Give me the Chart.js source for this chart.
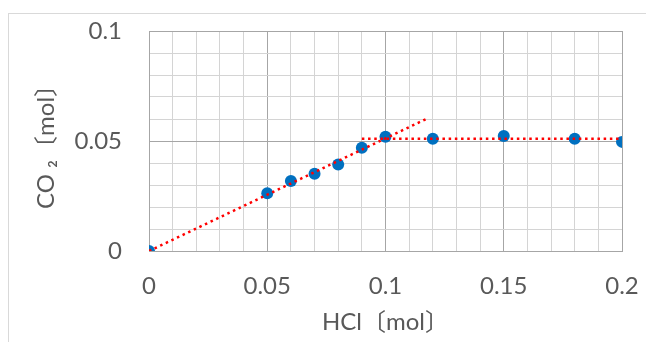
<!DOCTYPE html>
<html>
<head>
<meta charset="utf-8">
<script src="https://cdn.jsdelivr.net/npm/chart.js@4/dist/chart.umd.min.js"></script>
<style>
  html, body { margin: 0; padding: 0; background: #ffffff; }
  #wrap { position: relative; width: 646px; height: 342px; overflow: hidden; background: #ffffff; }
  #frame { position: absolute; left: 8px; top: 13px; right: -2px; bottom: -2px;
           border-left: 1px solid #d9d9d9; border-top: 1px solid #d9d9d9; pointer-events: none; }
  canvas { position: absolute; left: 0; top: 0; }
</style>
</head>
<body>
<div id="wrap">
  <canvas id="c" width="646" height="342"></canvas>
  <div id="frame"></div>
</div>
<script>
// Measured data (HCl [mol] vs CO2 [mol])
const hclValues = [0, 0.05, 0.06, 0.07, 0.08, 0.09, 0.10, 0.12, 0.15, 0.18, 0.20];
const co2Values = [0, 0.0263, 0.0318, 0.0351, 0.0393, 0.0469, 0.0519, 0.0510, 0.0523, 0.0510, 0.0496];

// Hand-drawn trend lines
const rising_x = [0, 0.118];
const rising_y = [0, 0.0604];
const plateau_x = [0.09, 0.20];
const plateau_y = [0.051, 0.051];

// Axis ticks
const xTickLabels = ['0', '0.05', '0.1', '0.15', '0.2'];
const yTickLabels = ['0', '0.05', '0.1'];
const xTitle = 'HCl〔mol〕';
const yTitle = 'CO ₂〔mol〕';

const toPts = (xs, ys) => xs.map((x, i) => ({ x: x, y: ys[i] }));
const isMajor = v => Math.abs(v / 0.05 - Math.round(v / 0.05)) < 1e-6;
const labelFor = (v, labels) => {
  if (!isMajor(v)) return '';
  const s = String(parseFloat(v.toFixed(2)));
  return labels.includes(s) ? s : '';
};

const FONT = "Lato, 'Noto Sans CJK JP', sans-serif";
const TXT = '#595959';
const MAJOR = '#a6a6a6';
const MINOR = '#d4d4d4';

new Chart(document.getElementById('c'), {
  type: 'scatter',
  data: {
    datasets: [
      {
        label: 'trend1',
        type: 'line',
        data: toPts(rising_x, rising_y),
        borderColor: '#ff0000',
        borderWidth: 2.5,
        borderDash: [2.5, 3.7],
        pointRadius: 0,
        fill: false,
        order: 1
      },
      {
        label: 'trend2',
        type: 'line',
        data: toPts(plateau_x, plateau_y),
        borderColor: '#ff0000',
        borderWidth: 2.5,
        borderDash: [2.5, 3.7],
        pointRadius: 0,
        fill: false,
        order: 1
      },
      {
        label: 'CO2',
        data: toPts(hclValues, co2Values),
        backgroundColor: '#0070c0',
        borderColor: '#0070c0',
        borderWidth: 0,
        pointRadius: 6,
        pointHoverRadius: 6,
        order: 2
      }
    ]
  },
  options: {
    responsive: false,
    animation: false,
    events: [],
    layout: { padding: { top: 31, right: 24, left: 0, bottom: 0 } },
    plugins: { legend: { display: false }, tooltip: { enabled: false } },
    scales: {
      x: {
        type: 'linear',
        min: 0, max: 0.2,
        afterFit: s => { s.height = 91; s.paddingLeft = 0; s.paddingRight = 0; },
        ticks: {
          stepSize: 0.01,
          autoSkip: false,
          maxRotation: 0,
          padding: 21,
          color: TXT,
          font: { family: FONT, size: 24 },
          callback: v => labelFor(v, xTickLabels)
        },
        grid: {
          drawTicks: false,
          lineWidth: 1,
          color: ctx => isMajor(ctx.tick.value) ? MAJOR : MINOR
        },
        border: { color: MAJOR, width: 1 },
        title: {
          display: true,
          text: xTitle,
          color: TXT,
          font: { family: FONT, size: 24 },
          padding: { top: 0, bottom: 5 }
        }
      },
      y: {
        type: 'linear',
        min: 0, max: 0.1,
        afterFit: s => { s.width = 149; s.paddingTop = 0; s.paddingBottom = 0; },
        ticks: {
          stepSize: 0.01,
          autoSkip: false,
          padding: 27,
          color: TXT,
          font: { family: FONT, size: 24 },
          callback: v => labelFor(v, yTickLabels)
        },
        grid: {
          drawTicks: false,
          lineWidth: 1,
          color: ctx => isMajor(ctx.tick.value) ? MAJOR : MINOR
        },
        border: { color: MAJOR, width: 1 },
        title: {
          display: true,
          text: yTitle,
          color: TXT,
          font: { family: FONT, size: 24 },
          padding: { top: 32, bottom: 0 }
        }
      }
    }
  }
});
</script>
</body>
</html>
